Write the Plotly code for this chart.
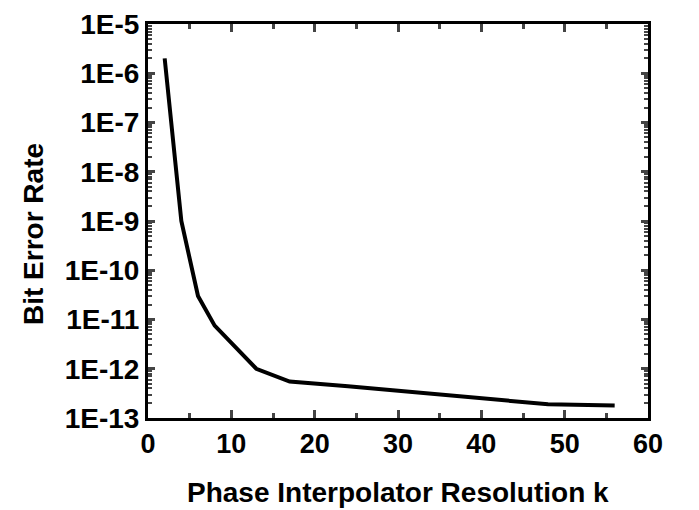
import plotly.graph_objects as go

# resolution k vs bit error rate
k_res = [2, 4, 6, 8, 13, 17, 24, 32, 40, 48, 56]
ber = [2e-6, 1e-9, 3e-11, 7.5e-12, 1e-12, 5.5e-13, 4.4e-13, 3.3e-13, 2.5e-13, 1.9e-13, 1.8e-13]

y_tickvals = [1e-13, 1e-12, 1e-11, 1e-10, 1e-9, 1e-8, 1e-7, 1e-6, 1e-5]
y_ticktext = ['1E-13', '1E-12', '1E-11', '1E-10', '1E-9', '1E-8', '1E-7', '1E-6', '1E-5']
x_tickvals = [0, 10, 20, 30, 40, 50, 60]

FONT = 'Liberation Sans, Arial, sans-serif'

fig = go.Figure()
fig.add_trace(go.Scatter(x=k_res, y=ber, mode='lines',
                         line=dict(color='black', width=4), showlegend=False))

fig.update_xaxes(range=[0, 60], tickvals=x_tickvals, ticks='inside', ticklen=8, tickwidth=3,
                 showline=True, linewidth=3, linecolor='black', mirror='ticks',
                 showgrid=False, zeroline=False, automargin=False, ticklabeloverflow='allow',
                 minor=dict(ticks='inside', ticklen=5, tickwidth=3, dtick=5, showgrid=False),
                 tickfont=dict(family=FONT, size=27, color='black', weight='bold'))
fig.update_yaxes(type='log', range=[-13, -5], tickvals=y_tickvals, ticktext=y_ticktext,
                 ticks='inside', ticklen=7, tickwidth=3, automargin=False,
                 ticklabeloverflow='allow',
                 showline=True, linewidth=3, linecolor='black', mirror='ticks',
                 showgrid=False, zeroline=False,
                 minor=dict(ticks='inside', ticklen=4, tickwidth=2, dtick='D1', showgrid=False),
                 tickfont=dict(family=FONT, size=28, color='black', weight='bold'))

# axis titles as annotations
fig.add_annotation(text='<b>Phase Interpolator Resolution k</b>', xref='paper', yref='paper',
                   x=0.5, y=-0.19, xanchor='center', yanchor='middle', showarrow=False,
                   font=dict(family=FONT, size=28, color='black'))
fig.add_annotation(text='<b>Bit Error Rate</b>', xref='paper', yref='paper',
                   x=-0.23, y=0.467, xanchor='center', yanchor='middle', textangle=-90,
                   showarrow=False, font=dict(family=FONT, size=28, color='black'))

# page body adds 8px offset, margins compensate
fig.update_layout(width=699, height=510, plot_bgcolor='white', paper_bgcolor='white',
                  margin=dict(l=140, r=59, t=16, b=100),
                  font=dict(family=FONT, size=28, color='black'))

fig.write_html('out.html')
